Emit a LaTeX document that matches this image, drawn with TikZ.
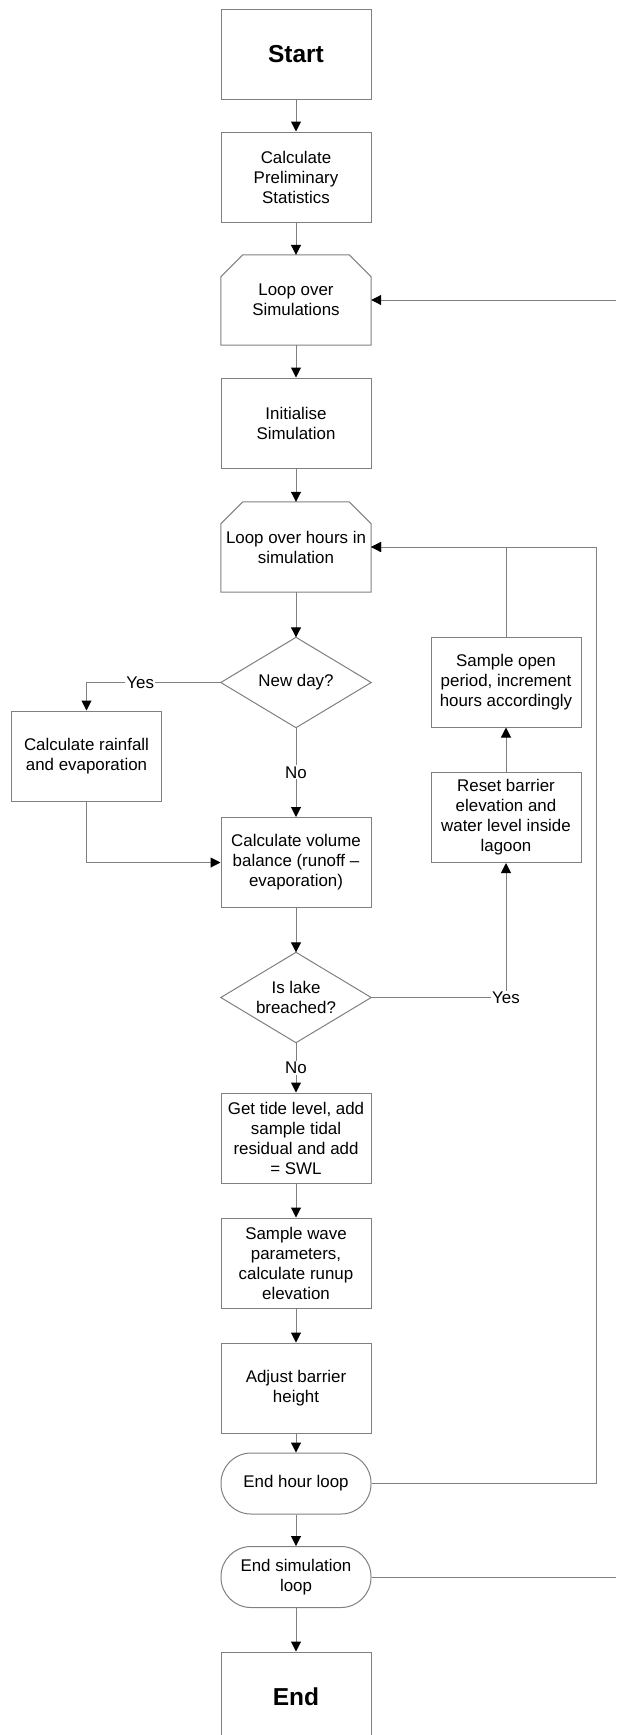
\documentclass[tikz,border=0pt]{standalone}
\usepackage{fontspec}
\setmainfont{Liberation Sans}
\usetikzlibrary{arrows.meta,calc}
\definecolor{ln}{RGB}{128,128,128}
\newcommand\chamferbox[1]{\draw[draw=ln,line width=1pt] (#1.south west) -- ($(#1.north west)+(0,22)$) -- ($(#1.north west)+(22,0)$) -- ($(#1.north east)+(-22,0)$) -- ($(#1.north east)+(0,22)$) -- (#1.south east) -- cycle;}
\newcommand\diamondbox[1]{\draw[draw=ln,line width=1pt] (#1.north) -- (#1.east) -- (#1.south) -- (#1.west) -- cycle;}
\begin{document}
\begin{tikzpicture}[x=1pt,y=-1pt,
  every node/.style={font=\fontsize{16.9}{20}\selectfont, align=center, inner sep=0pt},
  box/.style={draw=ln, line width=1pt, minimum width=150pt, minimum height=90pt},
  ghost/.style={minimum width=150pt, minimum height=90pt},
  term/.style={draw=ln, line width=1pt, minimum width=150pt, minimum height=61pt, rounded corners=30pt},
  conn/.style={draw=ln, line width=1pt, -{Triangle[length=10pt,width=10pt,black]}},
  plain/.style={draw=ln, line width=1pt},
  lbl/.style={fill=white, inner sep=1pt},
  big/.style={font=\fontsize{24.5}{29}\selectfont\bfseries}
]
\useasboundingbox (0,0) rectangle (616,1735);
\fill[white] (0,0) rectangle (616,1735);

\node[box,big] (start) at (296,54) {Start};
\node[box] (prelim) at (296,177) {Calculate\\Preliminary\\Statistics};
\node[ghost] (loopsim) at (296,300) {Loop over\\Simulations};
\chamferbox{loopsim}
\node[box] (init) at (296,423) {Initialise\\Simulation};
\node[ghost] (loophr) at (296,547) {Loop over hours in\\simulation};
\chamferbox{loophr}
\node[ghost] (newday) at (296,682.5) {New day?};
\diamondbox{newday}
\node[box] (rain) at (86.5,756) {Calculate rainfall\\and evaporation};
\node[box] (volume) at (296,862.5) {Calculate volume\\balance (runoff –\\evaporation)};
\node[ghost] (lake) at (296,997.5) {Is lake\\breached?};
\diamondbox{lake}
\node[box] (tide) at (296,1138) {Get tide level, add\\sample tidal\\residual and add\\= SWL};
\node[box] (wave) at (296,1263) {Sample wave\\parameters,\\calculate runup\\elevation};
\node[box] (adjust) at (296,1388) {Adjust barrier\\height};
\node[term] (endhr) at (296,1483.5) {End hour loop};
\node[term] (endsim) at (296,1577) {End simulation\\loop};
\node[box,big] (end) at (296,1697) {End};
\node[box] (open) at (506,682) {Sample open\\period, increment\\hours accordingly};
\node[box] (reset) at (506,817.5) {Reset barrier\\elevation and\\water level inside\\lagoon};

\coordinate (edgetop) at (616,300);
\coordinate (edgebot) at (616,1577);
\coordinate (rline) at (596,0);

\draw[conn] (start) -- (prelim);
\draw[conn] (prelim) -- (loopsim);
\draw[conn] (loopsim) -- (init);
\draw[conn] (init) -- (loophr);
\draw[conn] (loophr) -- (newday);
\draw[conn] (newday.west) -| node[lbl,pos=0.3]{Yes} (rain.north);
\draw[conn] (rain.south) |- (volume.west);
\draw[conn] (newday.south) -- node[lbl]{No} (volume.north);
\draw[conn] (volume) -- (lake);
\draw[conn] (lake.east) -| node[lbl,pos=0.5]{Yes} (reset.south);
\draw[conn] (lake.south) -- node[lbl]{No} (tide.north);
\draw[conn] (tide) -- (wave);
\draw[conn] (wave) -- (adjust);
\draw[conn] (adjust) -- (endhr);
\draw[conn] (endhr) -- (endsim);
\draw[conn] (endsim) -- (end);
\draw[conn] (reset.north) -- (open.south);
\draw[conn] (open.north) |- (loophr.east);
\draw[conn] (endhr.east) -- (endhr.east -| rline) -- (rline |- loophr.east) -- (loophr.east);
\draw[plain] (endsim.east) -- (edgebot);
\draw[conn] (edgetop) -- (loopsim.east);
\end{tikzpicture}
\end{document}
